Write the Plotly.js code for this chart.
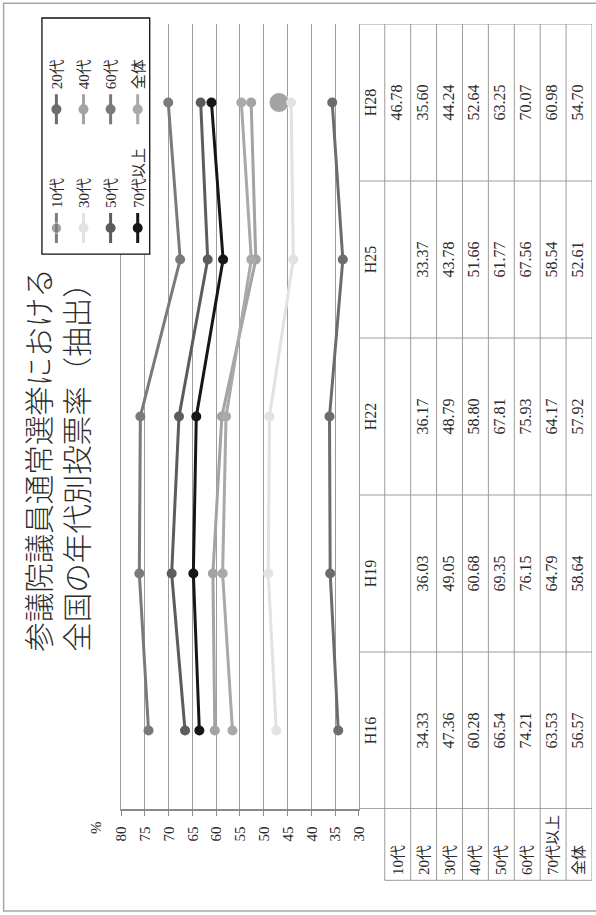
<!DOCTYPE html>
<html><head><meta charset="utf-8">
<script src="https://cdn.plot.ly/plotly-3.0.1.min.js"></script>
<style>
html,body{margin:0;padding:0;overflow:hidden;background:#fff;width:596px;height:915px}
#wrap{position:absolute;left:0;top:0;width:915px;height:596px;transform-origin:0 0;}
</style></head>
<body><div id="wrap"><div id="chart" style="width:915px;height:596px"></div></div>
<script>
// ---- data ----
const categories = ['H16', 'H19', 'H22', 'H25', 'H28'];
const groups = ['10代', '20代', '30代', '40代', '50代', '60代', '70代以上', '全体'];
const age10 = [null, null, null, null, 46.78];
const age20 = [34.33, 36.03, 36.17, 33.37, 35.60];
const age30 = [47.36, 49.05, 48.79, 43.78, 44.24];
const age40 = [60.28, 60.68, 58.80, 51.66, 52.64];
const age50 = [66.54, 69.35, 67.81, 61.77, 63.25];
const age60 = [74.21, 76.15, 75.93, 67.56, 70.07];
const age70 = [63.53, 64.79, 64.17, 58.54, 60.98];
const ageAll = [56.57, 58.64, 57.92, 52.61, 54.70];
const yTicks = [30, 35, 40, 45, 50, 55, 60, 65, 70, 75, 80];
const chartTitle = '参議院議員通常選挙における<br>全国の年代別投票率（抽出）';
const unitLabel = '%';

const seriesValues = [age10, age20, age30, age40, age50, age60, age70, ageAll];

// ---- styles ----
const lineColors = ['#7d7d7d', '#6c6c6c', '#e2e2e2', '#a3a3a3', '#5c5c5c', '#7a7a7a', '#161616', '#a9a9a9'];
const pointSizes = [[8, 8, 8, 8, 20], 10, 10, 10, 10, 10, 10, 10];

// ---- geometry (unrotated 915 x 596) ----
const W = 915, H = 596, L = 106.3, R = 24, T = 121.3, B = 4;
const PW = W - L - R, PH = H - T - B;
const px2x = ox => (ox - L) / PW;
const px2y = oy => (H - B - oy) / PH;
const splitY = px2y(359);

const serif = 'Liberation Serif, Noto Sans CJK JP, serif';
const txtColor = '#2a2a2a';
const gridColor = '#9c9c9c';

const traces = [];
seriesValues.forEach((vals, i) => {
  traces.push({
    type: 'scatter', mode: 'lines+markers',
    name: groups[i], x: categories, y: vals,
    xaxis: 'x', yaxis: 'y',
    line: {color: lineColors[i], width: 3},
    marker: {color: lineColors[i], size: pointSizes[i]},
    legend: i % 2 === 0 ? 'legend' : 'legend2',
    legendgroup: groups[i],
    hoverinfo: 'skip', cliponaxis: false
  });
});

// table: header row (index -1) and data rows (0..7)
traces.push({
  type: 'scatter', mode: 'text', x: categories, y: categories.map(() => -1),
  text: categories, xaxis: 'x', yaxis: 'y2', showlegend: false, hoverinfo: 'skip',
  textfont: {family: serif, size: 16, color: txtColor}, cliponaxis: false
});
seriesValues.forEach((vals, i) => {
  traces.push({
    type: 'scatter', mode: 'text', x: categories, y: categories.map(() => i),
    text: vals.map(v => v == null ? '' : v.toFixed(2)),
    xaxis: 'x', yaxis: 'y2', showlegend: false, hoverinfo: 'skip',
    textfont: {family: serif, size: 16, color: txtColor}, cliponaxis: false
  });
});

const nRows = groups.length;
const shapes = [];
// outer frame
shapes.push({type: 'rect', xref: 'paper', yref: 'paper',
  x0: px2x(4.3), x1: px2x(911.7), y0: px2y(620), y1: px2y(4),
  line: {color: '#a8a8a8', width: 1.5}, fillcolor: 'rgba(0,0,0,0)', layer: 'below'});
// legend frame
shapes.push({type: 'rect', xref: 'paper', yref: 'paper',
  x0: px2x(661), x1: px2x(897), y0: px2y(150), y1: px2y(42.3),
  line: {color: '#111', width: 1.3}, fillcolor: '#ffffff', layer: 'above'});
// table horizontal lines (row boundaries)
for (let r = 0; r <= nRows; r++) {
  shapes.push({type: 'line', xref: 'paper', yref: 'y2', x0: px2x(35), x1: 1,
    y0: r - 0.5, y1: r - 0.5, line: {color: gridColor, width: 1}});
}
// table vertical lines (column boundaries)
for (let c = 0; c <= categories.length; c++) {
  shapes.push({type: 'line', xref: 'x', yref: 'y2', x0: c - 0.5, x1: c - 0.5,
    y0: -1.5, y1: nRows - 0.5, line: {color: c === 0 ? '#8a8a8a' : gridColor, width: c === 0 ? 1.5 : 1}});
}
// label column left edge
shapes.push({type: 'line', xref: 'paper', yref: 'y2', x0: px2x(35), x1: px2x(35),
  y0: -0.5, y1: nRows - 0.5, line: {color: gridColor, width: 1}});

const annotations = groups.map((g, i) => ({
  xref: 'paper', yref: 'y2', x: px2x(38), y: i, xanchor: 'left', yanchor: 'middle',
  text: g, showarrow: false, font: {family: serif, size: 15, color: txtColor}
}));
annotations.push({xref: 'paper', yref: 'paper', x: px2x(88.3), y: px2y(96.7),
  xanchor: 'center', yanchor: 'middle', text: unitLabel, showarrow: false,
  font: {family: serif, size: 15, color: txtColor}});

const legendCommon = {
  yanchor: 'top', xanchor: 'left', y: px2y(40.5),
  bgcolor: 'rgba(0,0,0,0)', borderwidth: 0,
  font: {family: serif, size: 15, color: txtColor},
  traceorder: 'grouped', tracegroupgap: 4.6
};

const layout = {
  width: W, height: H,
  margin: {l: L, r: R, t: T, b: B, pad: 0},
  paper_bgcolor: '#fff', plot_bgcolor: '#fff',
  showlegend: true,
  title: {text: chartTitle, x: 263.3 / W, xanchor: 'left', xref: 'container',
    y: 1 - 50 / H, yanchor: 'top', yref: 'container',
    font: {family: 'Noto Sans CJK JP, sans-serif', size: 29.5, color: '#2b2b2b', weight: 300}},
  xaxis: {type: 'category', categoryorder: 'array', categoryarray: categories,
    range: [-0.5, categories.length - 0.5], showgrid: false, zeroline: false,
    showticklabels: false, ticks: '', showline: true, mirror: true,
    linecolor: gridColor, linewidth: 1, anchor: 'y', fixedrange: true},
  yaxis: {domain: [splitY, 1], range: [30, 80], tickvals: yTicks, ticktext: yTicks.map(String),
    showgrid: true, gridcolor: gridColor, gridwidth: 1, zeroline: false,
    showline: true, linecolor: '#8a8a8a', linewidth: 1.5,
    ticks: 'outside', ticklen: 5, tickcolor: '#8a8a8a', tickwidth: 1,
    ticklabelstandoff: 8,
    tickfont: {family: serif, size: 15, color: txtColor}, anchor: 'x', fixedrange: true},
  yaxis2: {domain: [0, splitY], range: [nRows - 0.5, -1.5], visible: false,
    anchor: 'x', fixedrange: true},
  legend: Object.assign({x: px2x(667)}, legendCommon),
  legend2: Object.assign({x: px2x(785.7)}, legendCommon),
  shapes: shapes,
  annotations: annotations,
  hovermode: false
};

Plotly.newPlot('chart', traces, layout, {staticPlot: true, displayModeBar: false}).then(() => {
  document.getElementById('wrap').style.transform = 'translateY(915px) rotate(-90deg)';
});
</script>
</body></html>
